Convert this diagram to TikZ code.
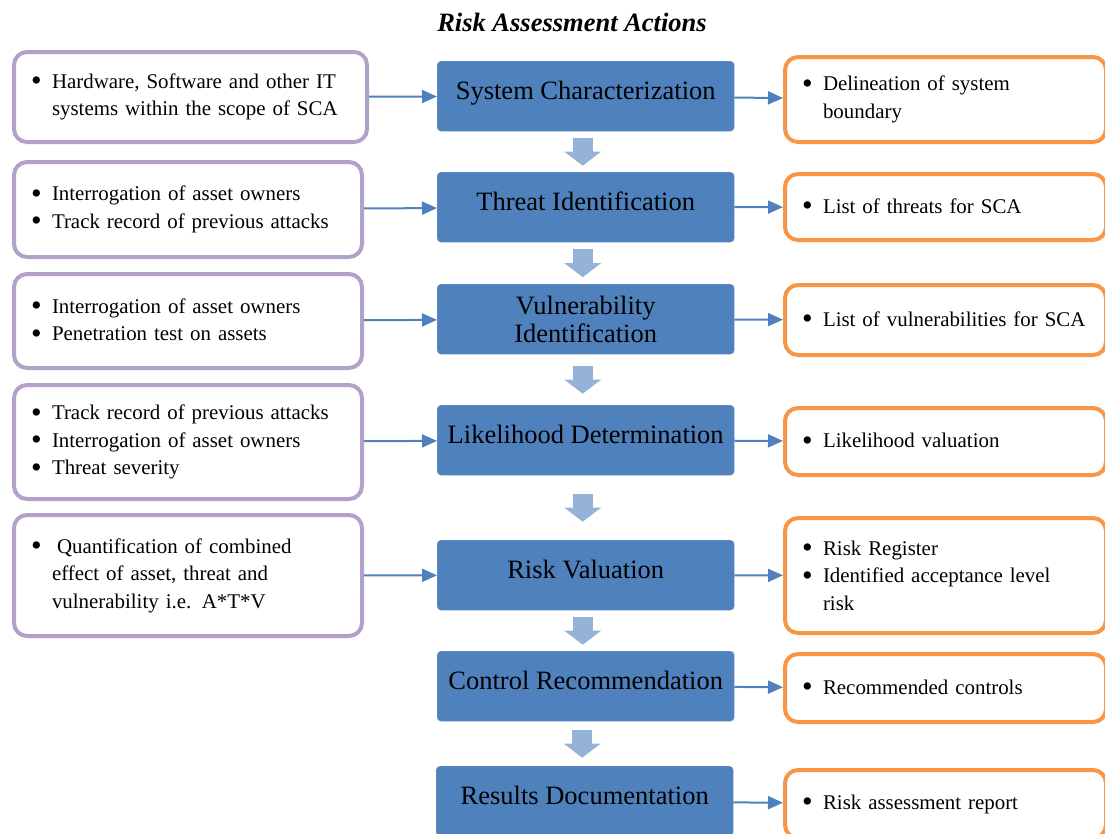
\documentclass[tikz,border=0pt]{standalone}
\usepackage{fontspec}
\setmainfont{Liberation Serif}
\usetikzlibrary{arrows.meta, calc}
\definecolor{input edge}{HTML}{B3A2C7}
\definecolor{output edge}{HTML}{F79646}
\definecolor{stage fill}{HTML}{4F81BD}
\definecolor{stage edge}{HTML}{6E96CA}
\definecolor{flow fill}{HTML}{95B3D7}
\newcommand{\bul}[1]{\hspace*{17pt}%
  \makebox[21pt][l]{\raisebox{-0.12em}{\scalebox{1.45}{\textbullet}}}%
  \parbox[t]{290pt}{\raggedright #1}}
\tikzset{
  sidebox/.style={line width=4pt, rounded corners=13pt, fill=white, anchor=north west,
    inner xsep=0pt, inner ysep=0pt, align=left,
    font=\fontsize{20.9}{27.5}\selectfont},
  inbox/.style={sidebox, draw=input edge, text width=#1},
  outbox/.style={sidebox, draw=output edge, text width=321pt},
  stagebox/.style={fill=stage fill, draw=stage edge, thin, rounded corners=4pt,
    anchor=north west, minimum width=297pt, minimum height=70pt, align=center,
    text height=19pt, text depth=12pt,
    font=\fontsize{26.5}{28}\selectfont},
  link/.style={draw=stage fill, line width=2pt, -{Triangle[width=13pt,length=15pt]}},
  flow/.style={draw=flow fill, line width=20pt, -{Triangle[width=36pt,length=14pt]}}
}

\begin{document}
\begin{tikzpicture}[x=1pt, y=-1pt]
    \useasboundingbox (0,0) rectangle (1105,833);
    \clip (0,0) rectangle (1105,833);
    \node[font=\fontsize{26.5}{30}\selectfont\bfseries\itshape] (title) at (572,22) {Risk Assessment Actions};

    % left column
    \node[inbox=353pt, minimum height=90pt] (l1) at (12,50)
      {\bul{Hardware, Software and other IT\\ systems within the scope of SCA}};
    \node[inbox=348pt, minimum height=95pt] (l2) at (12,160)
      {\bul{Interrogation of asset owners}\\
       \bul{Track record of previous attacks}};
    \node[inbox=348pt, minimum height=94pt] (l3) at (12,272)
      {\bul{Interrogation of asset owners}\\
       \bul{Penetration test on assets}};
    \node[inbox=348pt, minimum height=114pt] (l4) at (12,383)
      {\bul{Track record of previous attacks}\\
       \bul{Interrogation of asset owners}\\
       \bul{Threat severity}};
    \node[inbox=348pt, minimum height=121pt] (l5) at (12,513)
      {\bul{\hspace*{5pt}Quantification of combined\\ effect of asset, threat and\\ vulnerability i.e. A*T*V}};

    % middle column
    \node[stagebox] (c1) at (437,61) {System Characterization};
    \node[stagebox] (c2) at (437,172) {Threat Identification};
    \node[stagebox, text height=, text depth=] (c3) at (437,284) {Vulnerability\\Identification};
    \node[stagebox] (c4) at (437,405) {Likelihood Determination};
    \node[stagebox] (c5) at (437,540) {Risk Valuation};
    \node[stagebox] (c6) at (437,651) {Control Recommendation};
    \node[stagebox] (c7) at (436,766) {Results Documentation};

    % right column
    \node[outbox, minimum height=85pt] (r1) at (783,55)
      {\bul{Delineation of system\\ boundary}};
    \node[outbox, minimum height=66pt] (r2) at (783,172)
      {\bul{List of threats for SCA}};
    \node[outbox, minimum height=70pt] (r3) at (783,283)
      {\bul{List of vulnerabilities for SCA}};
    \node[outbox, minimum height=67pt] (r4) at (783,406)
      {\bul{Likelihood valuation}};
    \node[outbox, minimum height=115pt] (r5) at (783,516)
      {\bul{Risk Register}\\
       \bul{Identified acceptance level\\ risk}};
    \node[outbox, minimum height=68pt] (r6) at (783,652)
      {\bul{Recommended controls}};
    \node[outbox, minimum height=68pt] (r7) at (783,768)
      {\bul{Risk assessment report}};

    \foreach \i in {1,...,5}
      \draw[link] (l\i) -- (c\i);
    \foreach \i in {1,...,7}
      \draw[link] (c\i) -- (r\i);
    \foreach \a/\b in {c1/c2, c2/c3, c3/c4, c4/c5, c5/c6, c6/c7}
      \draw[flow] ($(\a.south)!.5!(\b.north)+(-3,-14)$) -- ($(\a.south)!.5!(\b.north)+(-3,14)$);
\end{tikzpicture}
\end{document}
